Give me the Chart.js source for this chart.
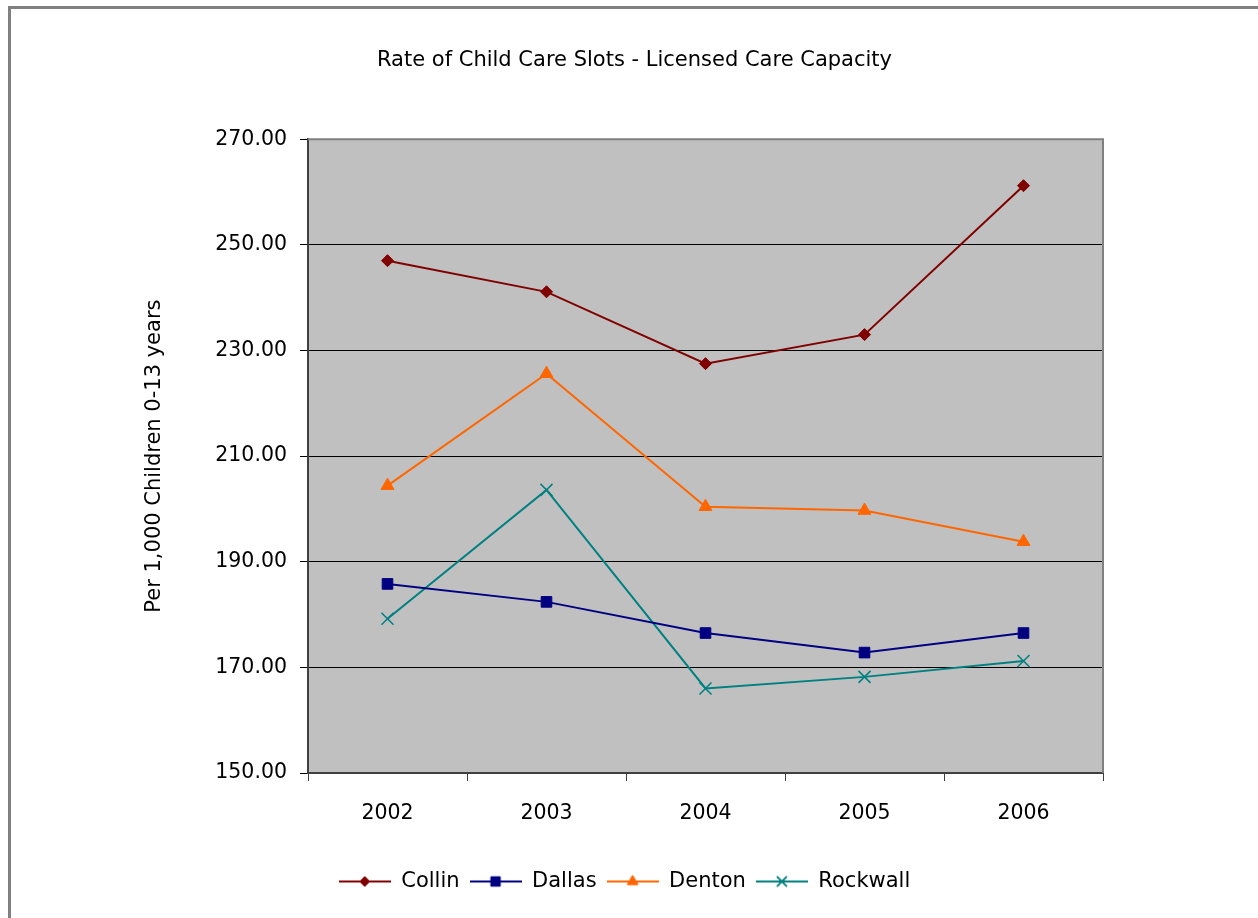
<!DOCTYPE html>
<html>
<head>
<meta charset="utf-8">
<script src="https://cdn.jsdelivr.net/npm/chart.js@4/dist/chart.umd.min.js"></script>
<style>
  html, body { margin: 0; padding: 0; background: #fff; overflow: hidden; }
  #frame {
    position: absolute; left: 8px; top: 6px; width: 1400px; height: 1100px;
    border: 3px solid #808080; box-sizing: border-box;
  }
  #wrap { position: absolute; left: 0; top: 0; width: 1258px; height: 918px; }
</style>
</head>
<body>
<div id="frame"></div>
<div id="wrap"><canvas id="chart" width="1258" height="918"></canvas></div>
<script>
// Licensed care capacity per 1,000 children aged 0-13, by county
const years = ['2002', '2003', '2004', '2005', '2006'];
const collin = [247.0, 241.1, 227.5, 233.0, 261.2];
const dallas = [185.8, 182.4, 176.5, 172.8, 176.5];
const denton = [204.4, 225.6, 200.4, 199.7, 193.8];
const rockwall = [179.2, 203.6, 166.0, 168.2, 171.2];
const yTicks = [150, 170, 190, 210, 230, 250, 270];

const FONT = "'DejaVu Sans', 'Open Sans', sans-serif";

const series = [
  { label: 'Collin',   data: collin,   color: '#800000', style: 'rectRot',  radius: 6,   legendRadius: 5 },
  { label: 'Dallas',   data: dallas,   color: '#000080', style: 'rect',     radius: 7.5, legendRadius: 6.5 },
  { label: 'Denton',   data: denton,   color: '#FF6600', style: 'triangle', radius: 7.5, legendRadius: 6 },
  { label: 'Rockwall', data: rockwall, color: '#008080', style: 'crossRot', radius: 8.5, legendRadius: 7 }
];

// Legend swatch: a short line with the series marker in the middle
function legendSwatch(s) {
  const c = document.createElement('canvas');
  c.width = 52; c.height = 18;
  const ctx = c.getContext('2d');
  ctx.strokeStyle = s.color;
  ctx.lineWidth = 2;
  ctx.beginPath();
  ctx.moveTo(0, 9); ctx.lineTo(52, 9);
  ctx.stroke();
  ctx.fillStyle = s.color;
  ctx.lineWidth = s.style === 'crossRot' ? 1.5 : 1;
  Chart.helpers.drawPoint(ctx, {
    pointStyle: s.style, radius: s.legendRadius, rotation: 0, borderWidth: ctx.lineWidth
  }, 26, 9);
  if (s.style !== 'crossRot') ctx.fill();
  ctx.stroke();
  return c;
}

// Grey plot background and the light frame on its top and right sides
const plotArea = {
  id: 'plotArea',
  beforeDraw(chart) {
    const { ctx, chartArea: a } = chart;
    ctx.save();
    ctx.fillStyle = '#C0C0C0';
    ctx.fillRect(a.left, a.top, a.right - a.left, a.bottom - a.top);
    ctx.restore();
  },
  afterDatasetsDraw(chart) {
    const { ctx, chartArea: a } = chart;
    ctx.save();
    ctx.strokeStyle = '#808080';
    ctx.lineWidth = 2;
    ctx.beginPath();
    ctx.moveTo(a.left, a.top);
    ctx.lineTo(a.right, a.top);
    ctx.lineTo(a.right, a.bottom);
    ctx.stroke();
    ctx.restore();
  }
};

// Nudge the legend row a little to the left of the title's centre line
const legendNudge = {
  id: 'legendNudge',
  afterLayout(chart) {
    if (chart.legend) {
      chart.legend.left -= 10;
      chart.legend.right -= 10;
    }
  }
};

new Chart(document.getElementById('chart'), {
  type: 'line',
  data: {
    labels: years,
    datasets: series.map(s => ({
      label: s.label,
      data: s.data,
      borderColor: s.color,
      backgroundColor: s.color,
      borderWidth: 2,
      pointStyle: s.style,
      pointRadius: s.radius,
      pointHoverRadius: s.radius,
      pointBorderWidth: s.style === 'crossRot' ? 1.5 : 1,
      pointBorderColor: s.color,
      pointBackgroundColor: s.color,
      tension: 0,
      fill: false
    }))
  },
  plugins: [plotArea, legendNudge],
  options: {
    responsive: false,
    animation: false,
    events: [],
    layout: { padding: { left: 11, right: 0, top: 0, bottom: 16 } },
    plugins: {
      title: {
        display: true,
        text: 'Rate of Child Care Slots - Licensed Care Capacity',
        color: '#000',
        font: { family: FONT, size: 21, weight: 'normal' },
        padding: { top: 48, bottom: 66 }
      },
      legend: {
        display: true,
        position: 'bottom',
        labels: {
          color: '#000',
          font: { family: FONT, size: 21 },
          padding: 10,
          usePointStyle: true,
          pointStyleWidth: 52,
          generateLabels(chart) {
            return series.map((s, i) => ({
              text: s.label,
              pointStyle: legendSwatch(s),
              fillStyle: s.color,
              strokeStyle: s.color,
              lineWidth: 0,
              hidden: false,
              datasetIndex: i
            }));
          }
        }
      },
      tooltip: { enabled: false }
    },
    scales: {
      x: {
        type: 'category',
        offset: true,
        grid: {
          display: true,
          offset: true,
          drawOnChartArea: false,
          drawTicks: true,
          tickLength: 8,
          tickColor: '#404040',
          color: '#404040'
        },
        border: { display: true, color: '#404040', width: 2 },
        ticks: {
          color: '#000',
          font: { family: FONT, size: 20.5 },
          padding: 20,
          maxRotation: 0
        },
        afterFit(scale) { scale.height = 88; }
      },
      y: {
        type: 'linear',
        position: 'left',
        min: 150,
        max: 270,
        afterBuildTicks(scale) { scale.ticks = yTicks.map(v => ({ value: v })); },
        grid: {
          color: ctx => (ctx.tick && ctx.tick.value === 270) ? '#808080' : '#000',
          lineWidth: 1,
          drawTicks: true,
          tickLength: 8,
          tickColor: '#000'
        },
        border: { display: true, color: '#404040', width: 2 },
        ticks: {
          color: '#000',
          font: { family: FONT, size: 20.5 },
          padding: 13,
          callback: v => Number(v).toFixed(2)
        },
        title: {
          display: true,
          text: 'Per 1,000 Children 0-13 years',
          color: '#000',
          font: { family: FONT, size: 21 },
          padding: { top: 131, bottom: 0 }
        },
        afterFit(scale) { scale.width = 297; }
      },
      spacer: {
        type: 'linear',
        position: 'right',
        display: true,
        grid: { display: false, drawTicks: false },
        border: { display: false },
        ticks: { display: false },
        afterFit(scale) { scale.width = 155; }
      }
    }
  }
});
</script>
</body>
</html>
